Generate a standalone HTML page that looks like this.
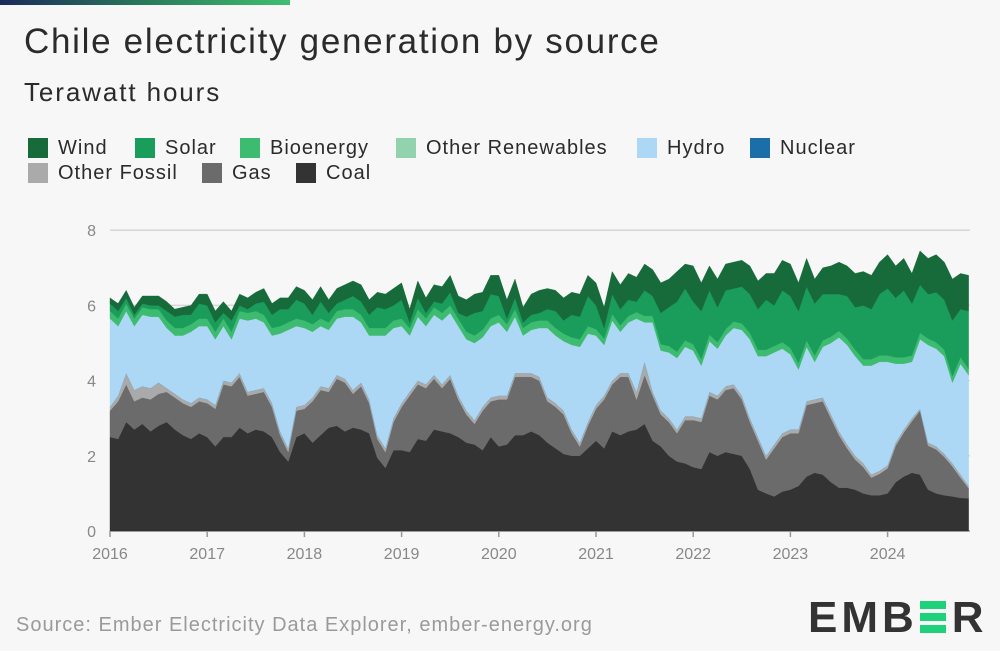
<!DOCTYPE html>
<html><head><meta charset="utf-8"><style>
body{margin:0;width:1000px;height:651px;background:#f7f7f7;font-family:"Liberation Sans",sans-serif;overflow:hidden;position:relative}
.t{position:absolute;color:#2b2b2b;white-space:nowrap}
.lg{position:absolute;font-size:20px;letter-spacing:1px;color:#2b2b2b;white-space:nowrap;line-height:20px}
.lg i{display:inline-block;width:20px;height:20px;vertical-align:top;margin-right:10px}
</style></head><body>
<div style="position:absolute;left:0;top:0;width:290px;height:5px;background:linear-gradient(90deg,#1b2a5c,#2a7a5a 50%,#3fbf70)"></div>
<div class="t" style="left:24px;top:22px;font-size:35px;letter-spacing:1.7px">Chile electricity generation by source</div>
<div class="t" style="left:24px;top:77px;font-size:26px;letter-spacing:1.9px">Terawatt hours</div>
<div class="lg" style="left:28px;top:138px"><i style="background:#176a3a"></i>Wind</div>
<div class="lg" style="left:135px;top:138px"><i style="background:#1a9c5a"></i>Solar</div>
<div class="lg" style="left:240px;top:138px"><i style="background:#3dbb70"></i>Bioenergy</div>
<div class="lg" style="left:396px;top:138px"><i style="background:#92d3ae"></i>Other Renewables</div>
<div class="lg" style="left:637px;top:138px"><i style="background:#acd8f5"></i>Hydro</div>
<div class="lg" style="left:750px;top:138px"><i style="background:#1c6ea8"></i>Nuclear</div>
<div class="lg" style="left:28px;top:163px"><i style="background:#aaaaaa"></i>Other Fossil</div>
<div class="lg" style="left:202px;top:163px"><i style="background:#6b6b6b"></i>Gas</div>
<div class="lg" style="left:296px;top:163px"><i style="background:#333333"></i>Coal</div>
<svg id="chart" width="1000" height="651" style="position:absolute;left:0;top:0" font-family="Liberation Sans, sans-serif"></svg>
<div class="t" style="left:16px;top:614px;font-size:20px;letter-spacing:1px;color:#9a9a9a">Source: Ember Electricity Data Explorer, ember-energy.org</div>
<div style="position:absolute;left:808px;top:596px;font-size:44px;font-weight:bold;color:#333;letter-spacing:4px;line-height:44px">EMB<span style="display:inline-block;width:26px;height:32px;vertical-align:-1px;margin:0 6px 0 2px;background:linear-gradient(#1fd17a 0 8px,transparent 8px 12px,#1fd17a 12px 20px,transparent 20px 24px,#1fd17a 24px 32px)"></span>R</div>
<script>
const years=["2016","2017","2018","2019","2020","2021","2022","2023","2024"];
const yTicks=[0,2,4,6,8];
const coal=[2.5,2.45,2.9,2.7,2.85,2.65,2.8,2.9,2.7,2.55,2.45,2.6,2.5,2.25,2.5,2.5,2.75,2.6,2.7,2.65,2.5,2.1,1.85,2.5,2.6,2.35,2.55,2.75,2.8,2.65,2.75,2.7,2.6,1.95,1.68,
2.15,2.15,2.1,2.45,2.4,2.7,2.65,2.6,2.5,2.35,2.3,2.15,2.5,2.25,2.3,2.55,2.55,2.65,2.55,2.35,2.2,2.05,2.0,2.0,2.2,2.4,2.2,2.65,2.55,2.65,2.7,2.85,2.4,2.25,2.0,1.85,
1.8,1.7,1.65,2.1,2.0,2.1,2.05,2.0,1.65,1.1,1.0,0.92,1.05,1.1,1.2,1.45,1.55,1.5,1.3,1.15,1.15,1.1,1.0,0.95,0.95,1.0,1.3,1.45,1.55,1.5,1.1,1.0,0.95,0.92,0.88,0.87];
const gas=[.7,1.0,1.0,.75,.7,.85,.85,.8,.85,.85,.85,.85,.9,1.0,1.4,1.35,1.35,1.0,.95,1.05,.8,.45,.25,.7,.65,1.1,1.2,.95,1.25,1.3,.9,1.15,.8,.5,.42,.75,
1.15,1.5,1.45,1.4,1.35,1.15,1.45,1.0,.75,.55,1.05,.95,1.25,1.2,1.55,1.55,1.45,1.45,1.1,1.1,1.05,.6,.25,.6,.85,1.3,1.25,1.55,1.45,.8,1.3,1.2,.85,.9,.75,1.15,
1.25,1.25,1.5,1.5,1.65,1.75,1.5,1.25,1.3,.9,1.28,1.45,1.5,1.4,1.9,1.85,1.95,1.7,1.4,1.05,.8,.7,.47,.57,.67,.97,1.17,1.37,1.7,1.17,1.17,1.02,.8,.54,.27];
const otherFossil=[.1,.15,.3,.3,.3,.3,.3,.1,.1,.1,.1,.1,.1,.1,.1,.1,.1,.1,.1,.1,.1,.1,.1,.1,.1,.1,.1,.1,.1,.1,.1,.1,.1,.1,.1,.1,
.1,.1,.1,.1,.1,.1,.1,.1,.1,.1,.1,.1,.1,.1,.1,.1,.1,.1,.1,.1,.1,.1,.1,.1,.1,.1,.1,.1,.1,.2,.35,.1,.1,.1,.1,.1,
.1,.1,.1,.1,.1,.1,.1,.1,.1,.1,.1,.1,.1,.1,.1,.1,.1,.1,.1,.1,.1,.1,.08,.08,.08,.08,.08,.08,.05,.08,.08,.08,.08,.08,.06];
const hydro=[2.35,1.85,1.65,1.7,1.9,1.9,1.75,1.6,1.55,1.7,1.9,1.9,1.95,1.75,1.45,1.15,1.45,1.9,1.9,1.75,1.8,2.6,3.15,2.15,2.05,1.75,1.6,1.55,1.5,1.65,1.95,1.6,1.7,2.65,3.0,2.4,
2.05,1.5,1.7,1.55,1.6,1.7,1.65,1.85,1.9,2.05,1.85,1.9,1.95,1.7,1.5,1.0,1.15,1.3,1.85,1.8,1.85,2.25,2.55,2.35,1.85,1.35,1.6,1.1,1.35,1.95,1.05,1.85,1.6,1.75,1.9,1.85,
1.75,1.4,1.35,1.25,1.35,1.5,1.75,2.1,2.15,2.65,2.45,2.25,2.0,1.6,1.45,1.0,1.35,1.9,2.5,2.65,2.65,2.6,2.9,2.9,2.75,2.1,1.75,1.5,1.85,2.6,2.6,2.6,2.15,2.95,2.95];
const nuclear=[];
const bioenergy=[.2,.2,.2,.2,.2,.2,.2,.2,.2,.2,.2,.2,.2,.2,.2,.2,.2,.2,.2,.2,.2,.2,.2,.2,.2,.2,.2,.2,.2,.2,.2,.2,.2,.2,.2,.2,
.2,.2,.2,.2,.2,.2,.2,.2,.2,.2,.2,.2,.2,.2,.2,.2,.2,.2,.2,.2,.2,.2,.2,.2,.17,.17,.17,.17,.17,.17,.17,.17,.17,.17,.17,.17,
.17,.17,.17,.17,.17,.17,.17,.17,.17,.17,.17,.17,.17,.17,.17,.17,.17,.17,.17,.17,.17,.17,.17,.17,.17,.17,.17,.17,.17,.17,.17,.17,.17,.17,.17];
const otherRenewables=[];
const solar=[.2,.2,.15,.1,.1,.1,.1,.25,.3,.35,.25,.4,.35,.25,.15,.3,.15,.1,.2,.35,.35,.45,.35,.5,.45,.25,.45,.25,.2,.25,.35,.35,.35,.55,.5,.4,
.5,.15,.3,.15,.15,.25,.35,.15,.4,.6,.5,.65,.5,.15,.3,.15,.2,.2,.3,.45,.35,.6,.6,.8,.63,.28,.53,.43,.43,.28,.68,.53,.83,1.03,1.33,1.38,
1.13,1.28,1.18,.93,1.03,.88,.98,1.03,1.08,1.33,1.08,1.38,1.38,1.38,1.43,1.38,1.23,1.13,.98,1.13,1.13,1.43,1.33,1.63,1.78,1.58,1.78,1.38,1.28,1.18,1.33,1.33,1.48,1.28,1.53];
const wind=[.15,.2,.2,.2,.2,.25,.25,.25,.2,.2,.25,.25,.3,.3,.3,.25,.3,.3,.3,.35,.3,.3,.3,.35,.35,.4,.4,.35,.4,.4,.4,.45,.4,.4,.4,.45,
.45,.35,.45,.4,.45,.45,.45,.45,.45,.5,.5,.5,.55,.5,.5,.4,.55,.6,.55,.55,.6,.6,.6,.55,.6,.55,.6,.65,.7,.65,.7,.7,.8,.75,.8,.65,
.95,.75,.65,.75,.7,.7,.7,.75,.75,.7,.85,.8,.85,.75,.75,.65,.7,.75,.85,.8,.9,.9,.9,.85,.9,.85,.85,.8,.9,.95,1.0,1.0,1.1,.95,.95];

const svg=document.getElementById('chart');
const NS='http://www.w3.org/2000/svg';
const X0=110, PERYEAR=97.2, Y0=531, PERUNIT=37.6, XR=970;
const xScale=i=>X0+i*PERYEAR/12;
const yScale=v=>Y0-v*PERUNIT;
function mk(tag,attrs){const e=document.createElementNS(NS,tag);for(const k in attrs)e.setAttribute(k,attrs[k]);svg.appendChild(e);return e;}
yTicks.forEach(t=>{
  const l=mk('line',{x1:X0,x2:XR,y1:yScale(t),y2:yScale(t),stroke:t===0?'#999':'#d6d6d6','stroke-width':1.5});
  
  
  const tx=mk('text',{x:96,y:yScale(t)+6,'text-anchor':'end','font-size':16,fill:'#888'});
  tx.textContent=t;
  
  
});
const series=[
  {name:'coal',v:coal,c:'#333333'},{name:'gas',v:gas,c:'#6b6b6b'},{name:'other-fossil',v:otherFossil,c:'#aaaaaa'},
  {name:'nuclear',v:nuclear,c:'#1c6ea8'},{name:'hydro',v:hydro,c:'#acd8f5'},{name:'other-renewables',v:otherRenewables,c:'#92d3ae'},
  {name:'bioenergy',v:bioenergy,c:'#3dbb70'},{name:'solar',v:solar,c:'#1a9c5a'},{name:'wind',v:wind,c:'#176a3a'}];
const N=coal.length;
let base=new Array(N).fill(0);
series.forEach(s=>{
  const top=base.map((b,i)=>b+(s.v[i]||0));
  let d='M'+xScale(0)+','+yScale(top[0]);
  for(let i=1;i<N;i++)d+='L'+xScale(i).toFixed(2)+','+yScale(top[i]).toFixed(2);
  for(let i=N-1;i>=0;i--)d+='L'+xScale(i).toFixed(2)+','+yScale(base[i]).toFixed(2);
  d+='Z';
  const p=mk('path',{d:d,fill:s.c,stroke:s.c,'stroke-width':0.4});
  
  
  base=top;
});
years.forEach((y,k)=>{
  const x=X0+k*PERYEAR;
  const tk=mk('line',{x1:x,x2:x,y1:Y0,y2:Y0+6,stroke:'#999','stroke-width':1.5});
  
  
  const tx=mk('text',{x:x,y:Y0+28,'text-anchor':'middle','font-size':16,fill:'#888'});
  tx.textContent=y;
  
  
});
</script>
</body></html>
